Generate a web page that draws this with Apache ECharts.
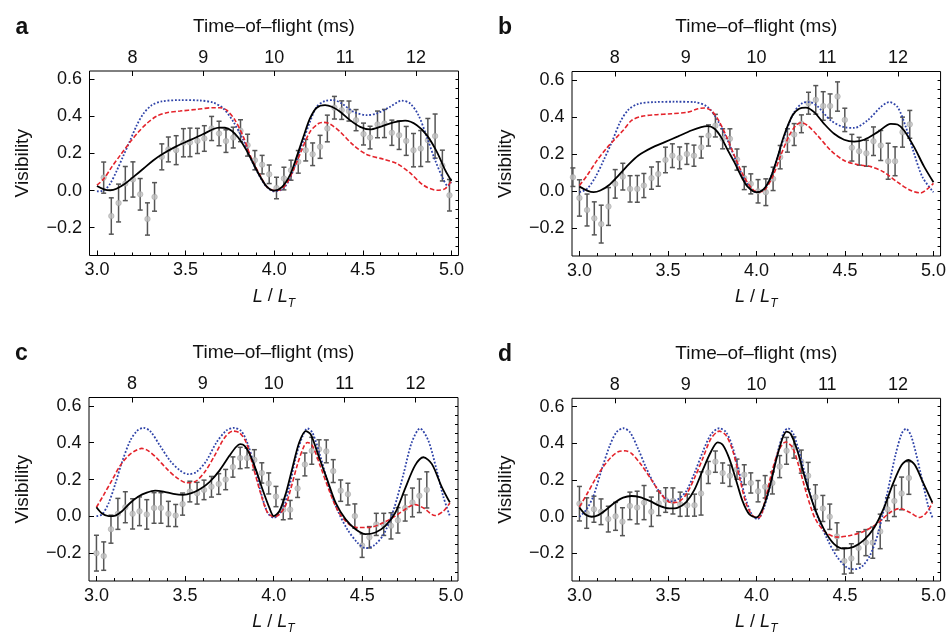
<!DOCTYPE html>
<html>
<head>
<meta charset="utf-8">
<script src="https://cdn.jsdelivr.net/npm/echarts@6/dist/echarts.min.js"></script>
<style>
  html, body { margin: 0; padding: 0; background: #fff; }
  #chart { width: 949px; height: 636px; }
</style>
</head>
<body>
<div id="chart"></div>
<script>
// tick values shared by all four panels
const xMajor = [3.0, 3.5, 4.0, 4.5, 5.0]
const xMinor = [3.0, 3.1, 3.2, 3.3, 3.4, 3.5, 3.6, 3.7, 3.8, 3.9, 4.0, 4.1, 4.2, 4.3, 4.4, 4.5, 4.6, 4.7, 4.8, 4.9, 5.0]
const tofTicks = [8, 9, 10, 11, 12]
const yMajor = [-0.2, 0.0, 0.2, 0.4, 0.6]
const yMinor = [-0.3, -0.25, -0.2, -0.15, -0.1, -0.05, 0, 0.05, 0.1, 0.15, 0.2, 0.25, 0.3, 0.35, 0.4, 0.45, 0.5, 0.55, 0.6]

// ---- panel a ----
const aPtL = [3.038, 3.081, 3.122, 3.160, 3.203, 3.244, 3.285, 3.325, 3.366, 3.403, 3.447, 3.488, 3.525, 3.567, 3.606, 3.647, 3.689, 3.728, 3.769, 3.810, 3.850, 3.891, 3.932, 3.972, 4.013, 4.055, 4.095, 4.136, 4.178, 4.217, 4.259, 4.300, 4.340, 4.381, 4.422, 4.462, 4.504, 4.541, 4.583, 4.622, 4.664, 4.705, 4.745, 4.786, 4.827, 4.867, 4.908, 4.949, 4.989]
const aPtV = [0.070, -0.137, -0.067, 0.038, 0.060, -0.020, -0.153, -0.034, 0.182, 0.222, 0.218, 0.258, 0.260, 0.268, 0.281, 0.335, 0.308, 0.267, 0.286, 0.323, 0.245, 0.164, 0.140, 0.088, 0.014, 0.065, 0.110, 0.155, 0.218, 0.196, 0.236, 0.335, 0.447, 0.434, 0.429, 0.380, 0.305, 0.286, 0.357, 0.362, 0.312, 0.299, 0.268, 0.218, 0.227, 0.272, 0.294, 0.135, -0.025]
const aPtE = [0.084, 0.098, 0.102, 0.092, 0.095, 0.085, 0.087, 0.077, 0.070, 0.067, 0.078, 0.076, 0.077, 0.068, 0.069, 0.065, 0.066, 0.061, 0.056, 0.059, 0.059, 0.052, 0.050, 0.050, 0.058, 0.061, 0.054, 0.061, 0.058, 0.061, 0.062, 0.072, 0.061, 0.050, 0.054, 0.057, 0.059, 0.061, 0.072, 0.076, 0.068, 0.077, 0.078, 0.090, 0.097, 0.117, 0.119, 0.083, 0.085]
const aBlack = [[3.0, 0.025], [3.04, 0.007], [3.075, 0.002], [3.11, 0.01], [3.16, 0.038], [3.206, 0.074], [3.263, 0.119], [3.319, 0.164], [3.375, 0.2], [3.45, 0.24], [3.525, 0.272], [3.6, 0.305], [3.657, 0.332], [3.69, 0.34], [3.722, 0.339], [3.76, 0.323], [3.797, 0.286], [3.844, 0.218], [3.882, 0.146], [3.92, 0.077], [3.957, 0.023], [4.0, 0.0], [4.045, 0.02], [4.089, 0.083], [4.127, 0.182], [4.165, 0.29], [4.202, 0.389], [4.24, 0.447], [4.287, 0.461], [4.325, 0.452], [4.372, 0.425], [4.428, 0.38], [4.485, 0.344], [4.541, 0.33], [4.598, 0.344], [4.673, 0.368], [4.739, 0.377], [4.805, 0.353], [4.861, 0.299], [4.918, 0.209], [4.965, 0.11], [5.0, 0.052]]
const aBlue = [[3.0, -0.004], [3.04, 0.002], [3.075, 0.038], [3.113, 0.11], [3.15, 0.19], [3.188, 0.272], [3.225, 0.353], [3.263, 0.416], [3.31, 0.461], [3.366, 0.481], [3.469, 0.488], [3.582, 0.486], [3.657, 0.474], [3.713, 0.443], [3.77, 0.371], [3.826, 0.272], [3.872, 0.164], [3.92, 0.074], [3.957, 0.02], [4.0, -0.004], [4.05, 0.01], [4.089, 0.065], [4.127, 0.164], [4.165, 0.272], [4.202, 0.371], [4.24, 0.452], [4.287, 0.483], [4.334, 0.488], [4.381, 0.47], [4.447, 0.425], [4.522, 0.407], [4.579, 0.416], [4.654, 0.452], [4.72, 0.485], [4.767, 0.47], [4.814, 0.407], [4.861, 0.29], [4.908, 0.164], [4.955, 0.06], [4.98, 0.025], [5.0, 0.045]]
const aRed = [[3.0, 0.029], [3.04, 0.065], [3.084, 0.128], [3.131, 0.19], [3.188, 0.263], [3.235, 0.317], [3.281, 0.362], [3.338, 0.402], [3.394, 0.42], [3.469, 0.429], [3.563, 0.438], [3.657, 0.447], [3.694, 0.447], [3.732, 0.434], [3.779, 0.38], [3.826, 0.29], [3.872, 0.173], [3.92, 0.083], [3.957, 0.023], [4.0, 0.0], [4.035, 0.004], [4.07, 0.038], [4.108, 0.11], [4.155, 0.218], [4.202, 0.317], [4.25, 0.362], [4.278, 0.368], [4.315, 0.359], [4.372, 0.317], [4.447, 0.245], [4.522, 0.195], [4.617, 0.169], [4.692, 0.146], [4.767, 0.095], [4.842, 0.029], [4.918, 0.002], [4.965, 0.011], [5.0, 0.052]]

// ---- panel b ----
const bPtL = [2.963, 3.000, 3.043, 3.084, 3.123, 3.164, 3.202, 3.245, 3.286, 3.327, 3.364, 3.407, 3.445, 3.486, 3.525, 3.566, 3.607, 3.647, 3.688, 3.729, 3.768, 3.809, 3.850, 3.890, 3.931, 3.968, 4.009, 4.053, 4.094, 4.134, 4.175, 4.213, 4.254, 4.294, 4.335, 4.377, 4.416, 4.458, 4.499, 4.539, 4.580, 4.621, 4.661, 4.702, 4.744, 4.783, 4.825, 4.866]
const bPtV = [0.075, -0.037, -0.102, -0.147, -0.178, -0.083, 0.039, 0.078, 0.012, 0.012, 0.030, 0.070, 0.092, 0.168, 0.191, 0.179, 0.200, 0.191, 0.236, 0.300, 0.353, 0.282, 0.282, 0.170, 0.070, 0.039, -0.001, -0.006, 0.066, 0.183, 0.273, 0.305, 0.363, 0.474, 0.492, 0.459, 0.459, 0.510, 0.384, 0.234, 0.215, 0.204, 0.269, 0.246, 0.161, 0.161, 0.318, 0.360]
const bPtE = [0.050, 0.098, 0.086, 0.089, 0.102, 0.102, 0.077, 0.072, 0.071, 0.072, 0.065, 0.060, 0.066, 0.069, 0.064, 0.059, 0.056, 0.057, 0.058, 0.057, 0.061, 0.054, 0.054, 0.057, 0.062, 0.054, 0.063, 0.072, 0.063, 0.063, 0.063, 0.059, 0.048, 0.059, 0.077, 0.077, 0.065, 0.079, 0.063, 0.072, 0.075, 0.070, 0.077, 0.081, 0.097, 0.078, 0.081, 0.075]
const bBlack = [[3.0, 0.024], [3.043, 0.003], [3.08, -0.006], [3.118, 0.003], [3.164, 0.03], [3.22, 0.084], [3.277, 0.143], [3.333, 0.192], [3.407, 0.233], [3.482, 0.264], [3.557, 0.295], [3.632, 0.327], [3.688, 0.345], [3.725, 0.35], [3.763, 0.336], [3.8, 0.291], [3.837, 0.222], [3.875, 0.156], [3.912, 0.084], [3.95, 0.024], [4.0, -0.006], [4.043, 0.012], [4.081, 0.075], [4.119, 0.183], [4.156, 0.3], [4.203, 0.408], [4.241, 0.444], [4.279, 0.45], [4.326, 0.426], [4.382, 0.363], [4.439, 0.309], [4.495, 0.277], [4.552, 0.267], [4.608, 0.277], [4.684, 0.318], [4.759, 0.363], [4.797, 0.359], [4.834, 0.327], [4.891, 0.237], [4.947, 0.132], [5.0, 0.048]]
const bBlue = [[3.0, -0.006], [3.043, 0.012], [3.09, 0.075], [3.136, 0.165], [3.183, 0.264], [3.23, 0.372], [3.277, 0.439], [3.333, 0.471], [3.426, 0.48], [3.538, 0.482], [3.65, 0.48], [3.725, 0.453], [3.781, 0.381], [3.837, 0.273], [3.884, 0.165], [3.931, 0.066], [3.978, 0.003], [4.006, -0.006], [4.043, 0.012], [4.081, 0.075], [4.119, 0.183], [4.166, 0.318], [4.213, 0.426], [4.26, 0.475], [4.298, 0.48], [4.345, 0.457], [4.42, 0.381], [4.495, 0.345], [4.552, 0.341], [4.627, 0.381], [4.702, 0.453], [4.75, 0.48], [4.797, 0.453], [4.844, 0.345], [4.891, 0.201], [4.938, 0.075], [5.0, -0.006]]
const bRed = [[3.0, 0.03], [3.043, 0.084], [3.099, 0.165], [3.155, 0.233], [3.202, 0.282], [3.249, 0.33], [3.295, 0.381], [3.351, 0.403], [3.426, 0.412], [3.52, 0.417], [3.613, 0.426], [3.669, 0.444], [3.707, 0.448], [3.744, 0.435], [3.781, 0.39], [3.828, 0.3], [3.875, 0.192], [3.921, 0.093], [3.968, 0.021], [4.006, -0.006], [4.043, 0.003], [4.09, 0.075], [4.137, 0.192], [4.185, 0.3], [4.222, 0.354], [4.25, 0.369], [4.288, 0.354], [4.345, 0.3], [4.42, 0.219], [4.495, 0.165], [4.571, 0.143], [4.646, 0.132], [4.721, 0.102], [4.797, 0.048], [4.872, 0.003], [4.928, -0.01], [4.966, 0.012], [5.0, 0.042]]

// ---- panel c ----
const cPtL = [3.000, 3.041, 3.082, 3.121, 3.163, 3.204, 3.243, 3.284, 3.325, 3.364, 3.406, 3.447, 3.486, 3.527, 3.568, 3.607, 3.649, 3.690, 3.729, 3.770, 3.811, 3.850, 3.891, 3.933, 3.972, 4.013, 4.054, 4.093, 4.135, 4.176, 4.215, 4.256, 4.297, 4.336, 4.378, 4.419, 4.458, 4.499, 4.540, 4.579, 4.621, 4.662, 4.701, 4.742, 4.783, 4.822, 4.864]
const cPtV = [-0.199, -0.215, -0.069, 0.014, 0.050, 0.014, 0.028, 0.011, 0.046, 0.046, 0.014, 0.005, 0.067, 0.135, 0.126, 0.144, 0.161, 0.176, 0.200, 0.268, 0.317, 0.317, 0.307, 0.236, 0.179, 0.108, 0.037, 0.037, 0.152, 0.282, 0.356, 0.365, 0.353, 0.246, 0.140, 0.121, 0.002, -0.158, -0.113, -0.043, -0.043, -0.051, -0.021, 0.046, 0.076, 0.112, 0.144]
const cPtE = [0.097, 0.077, 0.076, 0.084, 0.084, 0.082, 0.078, 0.080, 0.083, 0.083, 0.068, 0.060, 0.060, 0.056, 0.059, 0.053, 0.056, 0.056, 0.055, 0.055, 0.058, 0.053, 0.055, 0.055, 0.057, 0.055, 0.055, 0.050, 0.049, 0.062, 0.073, 0.051, 0.062, 0.062, 0.058, 0.059, 0.066, 0.064, 0.058, 0.060, 0.060, 0.071, 0.069, 0.071, 0.078, 0.091, 0.098]
const cBlack = [[3.0, 0.05], [3.032, 0.016], [3.069, 0.002], [3.107, 0.005], [3.144, 0.028], [3.19, 0.073], [3.237, 0.108], [3.284, 0.129], [3.331, 0.14], [3.378, 0.135], [3.434, 0.122], [3.49, 0.117], [3.536, 0.126], [3.583, 0.147], [3.639, 0.188], [3.695, 0.25], [3.751, 0.33], [3.789, 0.378], [3.811, 0.392], [3.836, 0.383], [3.864, 0.339], [3.901, 0.25], [3.938, 0.144], [3.976, 0.046], [4.0, 0.002], [4.032, 0.028], [4.069, 0.126], [4.107, 0.268], [4.144, 0.401], [4.181, 0.463], [4.209, 0.445], [4.256, 0.321], [4.303, 0.197], [4.35, 0.073], [4.406, -0.016], [4.462, -0.069], [4.518, -0.096], [4.574, -0.087], [4.63, -0.051], [4.686, 0.02], [4.742, 0.152], [4.798, 0.277], [4.845, 0.321], [4.892, 0.285], [4.948, 0.161], [4.994, 0.076]]
const cBlue = [[3.0, 0.002], [3.032, 0.011], [3.069, 0.073], [3.107, 0.179], [3.144, 0.294], [3.19, 0.41], [3.228, 0.463], [3.265, 0.48], [3.303, 0.463], [3.359, 0.383], [3.415, 0.303], [3.471, 0.25], [3.518, 0.229], [3.564, 0.241], [3.621, 0.303], [3.677, 0.401], [3.733, 0.466], [3.774, 0.48], [3.817, 0.463], [3.854, 0.392], [3.892, 0.268], [3.929, 0.126], [3.966, 0.02], [4.0, -0.007], [4.05, 0.037], [4.088, 0.161], [4.125, 0.321], [4.163, 0.436], [4.191, 0.477], [4.219, 0.454], [4.265, 0.321], [4.312, 0.161], [4.359, 0.037], [4.415, -0.069], [4.471, -0.14], [4.518, -0.172], [4.565, -0.158], [4.621, -0.096], [4.677, 0.037], [4.733, 0.232], [4.779, 0.401], [4.826, 0.477], [4.873, 0.41], [4.92, 0.25], [4.957, 0.108], [4.994, 0.002]]
const cRed = [[3.0, 0.05], [3.041, 0.117], [3.088, 0.197], [3.135, 0.277], [3.181, 0.33], [3.219, 0.356], [3.256, 0.369], [3.293, 0.356], [3.34, 0.317], [3.396, 0.259], [3.452, 0.211], [3.508, 0.183], [3.555, 0.188], [3.611, 0.241], [3.667, 0.33], [3.723, 0.427], [3.77, 0.463], [3.807, 0.454], [3.845, 0.401], [3.882, 0.277], [3.929, 0.117], [3.966, 0.02], [4.005, -0.002], [4.06, 0.046], [4.097, 0.152], [4.135, 0.285], [4.172, 0.383], [4.191, 0.401], [4.219, 0.383], [4.265, 0.268], [4.312, 0.144], [4.359, 0.037], [4.415, -0.034], [4.471, -0.06], [4.536, -0.06], [4.611, -0.037], [4.686, 0.002], [4.761, 0.051], [4.798, 0.064], [4.845, 0.046], [4.91, 0.005], [4.957, 0.028], [4.994, 0.073]]

// ---- panel d ----
const dPtL = [3.000, 3.041, 3.082, 3.122, 3.163, 3.204, 3.243, 3.285, 3.326, 3.365, 3.406, 3.448, 3.487, 3.528, 3.569, 3.609, 3.650, 3.687, 3.728, 3.768, 3.809, 3.850, 3.890, 3.931, 3.968, 4.009, 4.049, 4.090, 4.131, 4.170, 4.212, 4.253, 4.292, 4.333, 4.375, 4.414, 4.455, 4.496, 4.536, 4.577, 4.618, 4.657, 4.699, 4.740, 4.779, 4.820, 4.861]
const dPtV = [0.071, 0.020, 0.041, 0.027, -0.013, 0.002, -0.027, 0.059, 0.050, 0.077, 0.027, 0.073, 0.091, 0.086, 0.068, 0.063, 0.063, 0.127, 0.241, 0.300, 0.238, 0.223, 0.259, 0.229, 0.184, 0.139, 0.163, 0.184, 0.273, 0.359, 0.377, 0.300, 0.223, 0.107, 0.045, 0.000, -0.107, -0.241, -0.227, -0.170, -0.141, -0.141, -0.080, 0.041, 0.086, 0.127, 0.211]
const dPtE = [0.094, 0.083, 0.071, 0.070, 0.070, 0.076, 0.076, 0.075, 0.089, 0.093, 0.080, 0.067, 0.067, 0.071, 0.066, 0.060, 0.060, 0.118, 0.060, 0.058, 0.055, 0.058, 0.055, 0.054, 0.055, 0.058, 0.061, 0.060, 0.060, 0.073, 0.058, 0.063, 0.073, 0.067, 0.071, 0.069, 0.074, 0.071, 0.080, 0.088, 0.071, 0.085, 0.094, 0.063, 0.085, 0.089, 0.089]
const dBlack = [[3.0, 0.05], [3.032, 0.014], [3.069, 0.0], [3.107, 0.009], [3.154, 0.041], [3.2, 0.077], [3.247, 0.104], [3.294, 0.113], [3.341, 0.107], [3.397, 0.086], [3.453, 0.059], [3.509, 0.045], [3.556, 0.05], [3.603, 0.08], [3.65, 0.148], [3.697, 0.255], [3.743, 0.354], [3.781, 0.405], [3.809, 0.392], [3.846, 0.318], [3.884, 0.202], [3.921, 0.086], [3.959, 0.014], [4.0, -0.004], [4.034, 0.041], [4.071, 0.148], [4.109, 0.3], [4.146, 0.425], [4.17, 0.464], [4.193, 0.452], [4.23, 0.363], [4.277, 0.202], [4.324, 0.059], [4.38, -0.066], [4.436, -0.146], [4.493, -0.173], [4.549, -0.164], [4.605, -0.129], [4.661, -0.066], [4.717, 0.041], [4.773, 0.184], [4.82, 0.282], [4.858, 0.309], [4.895, 0.282], [4.942, 0.184], [4.994, 0.077]]
const dBlue = [[3.0, 0.0], [3.041, 0.041], [3.079, 0.113], [3.125, 0.255], [3.172, 0.389], [3.21, 0.461], [3.247, 0.482], [3.285, 0.461], [3.331, 0.371], [3.378, 0.264], [3.425, 0.175], [3.481, 0.104], [3.519, 0.084], [3.556, 0.095], [3.603, 0.139], [3.65, 0.238], [3.697, 0.354], [3.743, 0.448], [3.79, 0.482], [3.828, 0.461], [3.865, 0.38], [3.903, 0.238], [3.94, 0.095], [3.978, 0.005], [4.006, -0.013], [4.043, 0.05], [4.081, 0.184], [4.118, 0.345], [4.155, 0.461], [4.178, 0.482], [4.208, 0.452], [4.249, 0.327], [4.296, 0.148], [4.343, 0.005], [4.399, -0.12], [4.455, -0.218], [4.511, -0.277], [4.549, -0.286], [4.596, -0.271], [4.642, -0.209], [4.689, -0.084], [4.736, 0.113], [4.783, 0.327], [4.82, 0.452], [4.845, 0.479], [4.876, 0.434], [4.923, 0.255], [4.97, 0.059], [4.994, -0.004]]
const dRed = [[3.0, 0.054], [3.041, 0.121], [3.088, 0.202], [3.135, 0.273], [3.182, 0.327], [3.219, 0.354], [3.257, 0.359], [3.294, 0.345], [3.35, 0.282], [3.406, 0.202], [3.463, 0.121], [3.519, 0.077], [3.556, 0.08], [3.603, 0.121], [3.65, 0.211], [3.697, 0.318], [3.743, 0.425], [3.79, 0.466], [3.828, 0.443], [3.865, 0.363], [3.903, 0.22], [3.94, 0.077], [3.978, 0.005], [4.015, -0.004], [4.052, 0.104], [4.09, 0.255], [4.127, 0.363], [4.165, 0.407], [4.202, 0.38], [4.24, 0.273], [4.287, 0.113], [4.333, -0.013], [4.39, -0.084], [4.455, -0.111], [4.53, -0.102], [4.605, -0.08], [4.68, -0.039], [4.755, 0.023], [4.811, 0.045], [4.867, 0.023], [4.923, -0.004], [4.961, 0.023], [4.994, 0.077]]

const panels = [
  { tag: 'a', left: 89.5, top: 71, pts: [aPtL, aPtV, aPtE], black: aBlack, blue: aBlue, red: aRed },
  { tag: 'b', left: 572, top: 71.5, pts: [bPtL, bPtV, bPtE], black: bBlack, blue: bBlue, red: bRed },
  { tag: 'c', left: 89, top: 397.5, pts: [cPtL, cPtV, cPtE], black: cBlack, blue: cBlue, red: cRed },
  { tag: 'd', left: 572, top: 398.3, pts: [dPtL, dPtV, dPtE], black: dBlack, blue: dBlue, red: dRed }
]

const X_MIN = 2.958
const X_MAX = 5.04
const Y_MIN = -0.35
const Y_MAX = 0.645
const FONT = '"Liberation Sans", Arial, Helvetica, sans-serif'
const labelStyle = { color: '#111', fontSize: 18, fontFamily: FONT }
const nameStyle = { color: '#111', fontSize: 19, fontFamily: FONT }

const fmtY = v => (v < 0 ? '\u2212' : '') + Math.abs(v).toFixed(1)

const grid = [], xAxis = [], yAxis = [], series = [], title = []

panels.forEach((p, gi) => {
  grid.push({ left: p.left, top: p.top, width: 369, height: 184.5, show: true, borderColor: '#000', borderWidth: 1, backgroundColor: 'transparent' })

  // bottom axis with labels and major ticks
  xAxis.push({
    gridIndex: gi, type: 'value', position: 'bottom', min: X_MIN, max: X_MAX,
    axisLine: { show: false, onZero: false }, splitLine: { show: false },
    axisTick: { inside: true, length: 5, customValues: xMajor, lineStyle: { color: '#000' } },
    axisLabel: { ...labelStyle, margin: 6, customValues: xMajor, formatter: v => v.toFixed(1) },
    name: '{i|L}{n| / }{i|L}{s|T}', nameLocation: 'middle', nameGap: 32,
    nameTextStyle: {
      rich: {
        i: { fontStyle: 'italic', fontSize: 18, fontFamily: FONT, color: '#111', lineHeight: 22, verticalAlign: 'top' },
        n: { fontSize: 18, fontFamily: FONT, color: '#111', lineHeight: 22, verticalAlign: 'top' },
        s: { fontStyle: 'italic', fontSize: 12, fontFamily: FONT, color: '#111', lineHeight: 10, verticalAlign: 'bottom' }
      }
    }
  })
  // bottom minor ticks
  xAxis.push({
    gridIndex: gi, type: 'value', position: 'bottom', min: X_MIN, max: X_MAX,
    axisLine: { show: false, onZero: false }, splitLine: { show: false }, axisLabel: { show: false },
    axisTick: { inside: true, length: 3, customValues: xMinor, lineStyle: { color: '#000' } }
  })
  // top time-of-flight axis (t = 2.5 L)
  xAxis.push({
    gridIndex: gi, type: 'value', position: 'top', min: X_MIN * 2.5, max: X_MAX * 2.5,
    axisLine: { show: false, onZero: false }, splitLine: { show: false },
    axisTick: { inside: true, length: 5, customValues: tofTicks, lineStyle: { color: '#000' } },
    axisLabel: { ...labelStyle, margin: 4, customValues: tofTicks },
    name: 'Time\u2013of\u2013flight (ms)', nameLocation: 'middle', nameGap: 35,
    nameTextStyle: { ...nameStyle }
  })

  yAxis.push({
    gridIndex: gi, type: 'value', min: Y_MIN, max: Y_MAX,
    axisLine: { show: false, onZero: false }, splitLine: { show: false },
    axisTick: { inside: true, length: 5, customValues: yMajor, lineStyle: { color: '#000' } },
    axisLabel: { ...labelStyle, margin: 7.5, customValues: yMajor, formatter: fmtY },
    name: 'Visibility', nameLocation: 'middle', nameGap: 57, nameRotate: 90,
    nameTextStyle: { ...nameStyle }
  })
  yAxis.push({
    gridIndex: gi, type: 'value', min: Y_MIN, max: Y_MAX,
    axisLine: { show: false, onZero: false }, splitLine: { show: false }, axisLabel: { show: false },
    axisTick: { inside: true, length: 3, customValues: yMinor, lineStyle: { color: '#000' } }
  })

  const xi = gi * 3, yi = gi * 2
  const [L, V, E] = p.pts

  // error bars
  series.push({
    type: 'custom', xAxisIndex: xi, yAxisIndex: yi, z: 2, silent: true,
    data: L.map((x, i) => [x, V[i], E[i]]),
    renderItem: (params, api) => {
      const x = api.value(0), y = api.value(1), e = api.value(2)
      const hi = api.coord([x, y + e]), lo = api.coord([x, y - e])
      const cap = 2.5
      const st = { stroke: '#555', lineWidth: 1.5 }
      return {
        type: 'group',
        children: [
          { type: 'line', shape: { x1: hi[0], y1: hi[1], x2: lo[0], y2: lo[1] }, style: st },
          { type: 'line', shape: { x1: hi[0] - cap, y1: hi[1], x2: hi[0] + cap, y2: hi[1] }, style: st },
          { type: 'line', shape: { x1: lo[0] - cap, y1: lo[1], x2: lo[0] + cap, y2: lo[1] }, style: st }
        ]
      }
    }
  })
  // grey points
  series.push({
    type: 'scatter', xAxisIndex: xi, yAxisIndex: yi, z: 3, silent: true,
    data: L.map((x, i) => [x, V[i]]),
    symbol: 'circle', symbolSize: 5.5,
    itemStyle: { color: '#c2c2c2', borderColor: '#9a9a9a', borderWidth: 0.6 }
  })
  // model curves
  series.push({
    type: 'line', xAxisIndex: xi, yAxisIndex: yi, z: 4, data: p.blue, smooth: 0.3,
    showSymbol: false, lineStyle: { color: '#2f43a8', width: 1.8, type: [1.8, 1.8] }
  })
  series.push({
    type: 'line', xAxisIndex: xi, yAxisIndex: yi, z: 5, data: p.red, smooth: 0.3,
    showSymbol: false, lineStyle: { color: '#e4232b', width: 1.6, type: [4.5, 2.2] }
  })
  series.push({
    type: 'line', xAxisIndex: xi, yAxisIndex: yi, z: 6, data: p.black, smooth: 0.3,
    showSymbol: false, lineStyle: { color: '#000', width: 1.8 }
  })

  title.push({
    text: p.tag, left: p.left - 79, top: p.top - 60,
    textStyle: { fontSize: 23, fontWeight: 'bold', fontFamily: FONT, color: '#111' }
  })
})

const chart = echarts.init(document.getElementById('chart'), null, { renderer: 'canvas' })
chart.setOption({
  animation: false,
  backgroundColor: '#fff',
  title, grid, xAxis, yAxis, series
})
</script>
</body>
</html>
